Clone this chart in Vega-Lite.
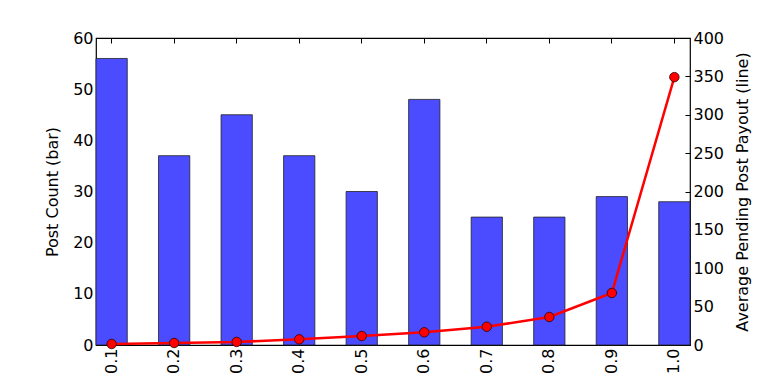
{
  "$schema": "https://vega.github.io/schema/vega-lite/v6.json",
  "autosize": "none",
  "padding": {"left": 96, "top": 38, "right": 78, "bottom": 39},
  "width": 594,
  "height": 307,
  "background": "white",
  "config": {
    "font": "DejaVu Sans",
    "view": {"stroke": "black", "strokeWidth": 1.2},
    "axis": {
      "labelFont": "DejaVu Sans",
      "titleFont": "DejaVu Sans",
      "labelFontSize": 16,
      "titleFontSize": 16,
      "titleFontWeight": "normal",
      "labelColor": "black",
      "titleColor": "black",
      "tickColor": "black",
      "domainColor": "black",
      "grid": false,
      "tickSize": -5,
      "labelPadding": 8
    }
  },
  "data": {
    "values": [
      {"bin": "0.1", "count": 56, "payout": 1.3},
      {"bin": "0.2", "count": 37, "payout": 2.6},
      {"bin": "0.3", "count": 45, "payout": 4},
      {"bin": "0.4", "count": 37, "payout": 7.4},
      {"bin": "0.5", "count": 30, "payout": 11.7},
      {"bin": "0.6", "count": 48, "payout": 16.5},
      {"bin": "0.7", "count": 25, "payout": 23.8},
      {"bin": "0.8", "count": 25, "payout": 36.5},
      {"bin": "0.9", "count": 29, "payout": 67.8},
      {"bin": "1.0", "count": 28, "payout": 349}
    ]
  },
  "layer": [
    {
      "mark": {"type": "bar", "color": "#4b4bff", "stroke": "#222222", "strokeWidth": 0.8},
      "encoding": {
        "x": {
          "field": "bin", "type": "ordinal",
          "scale": {"paddingInner": 0.5, "paddingOuter": 0},
          "axis": {"orient": "bottom", "title": null, "labelAngle": 270, "labelAlign": "right", "labelBaseline": "middle", "labelPadding": 8, "domain": false}
        },
        "y": {
          "field": "count", "type": "quantitative",
          "scale": {"domain": [0, 60], "nice": false},
          "axis": {"title": "Post Count (bar)", "values": [0, 10, 20, 30, 40, 50, 60], "titlePadding": 12, "domain": false}
        }
      }
    },
    {
      "encoding": {
        "x": {"field": "bin", "type": "ordinal", "axis": {"orient": "top", "labels": false, "title": null, "domain": false}},
        "y": {
          "field": "payout", "type": "quantitative",
          "scale": {"domain": [0, 400], "nice": false},
          "axis": {"orient": "right", "title": "Average Pending Post Payout (line)", "titleAngle": 270, "titleBaseline": "middle", "titleX": 52, "values": [0, 50, 100, 150, 200, 250, 300, 350, 400], "domain": false}
        }
      },
      "layer": [
        {"mark": {"type": "line", "color": "red", "strokeWidth": 2.5}},
        {"mark": {"type": "point", "filled": true, "fill": "red", "stroke": "#300000", "strokeWidth": 0.8, "size": 90, "opacity": 1}}
      ]
    }
  ],
  "resolve": {"scale": {"y": "independent"}, "axis": {"x": "independent", "y": "independent"}}
}
